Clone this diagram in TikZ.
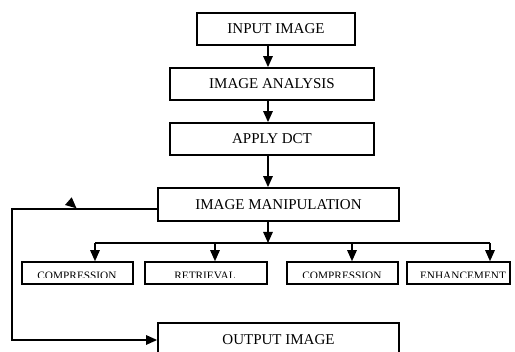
\documentclass[tikz,border=0pt]{standalone}
\usepackage{fontspec}
\setmainfont{Liberation Serif}
\usetikzlibrary{arrows.meta}
\tikzset{
  box/.style={draw, line width=1.8pt, inner sep=0pt, font=\fontsize{15}{18}\selectfont},
  smallbox/.style={draw, line width=1.6pt, inner sep=0pt, minimum height=22pt},
  smalltext/.style={inner sep=0pt, anchor=base, font=\fontsize{11.3}{13}\selectfont},
  conn/.style={line width=1.4pt},
  arr/.style={conn, -{Triangle[length=11pt,width=9.5pt]}}
}
\begin{document}
\begin{tikzpicture}[x=1pt, y=-1pt]
\useasboundingbox (0,0) rectangle (515,352);

% main column of boxes
\node[box, minimum width=158pt, minimum height=32pt] (in)  at (276,29)    {INPUT IMAGE};
\node[box, minimum width=204pt, minimum height=32pt] (ana) at (272,84)    {IMAGE ANALYSIS};
\node[box, minimum width=204pt, minimum height=32pt] (dct) at (272,139)   {APPLY DCT};
\node[box, minimum width=241pt, minimum height=33pt] (man) at (278.5,204.5) {IMAGE MANIPULATION};
\node[box, minimum width=241pt, minimum height=34pt] (out) at (278.5,340) {OUTPUT IMAGE};

% row of operation boxes
\node[smallbox, minimum width=111pt] (c1) at (77.5,273)  {};
\node[smallbox, minimum width=122pt] (rt) at (206,273)   {};
\node[smallbox, minimum width=111pt] (c2) at (342.5,273) {};
\node[smallbox, minimum width=103pt] (en) at (458.5,273) {};

% labels of the operation boxes, cut off by the box interior
\begin{scope}
  \clip (0,262) rectangle (515,278);
  \node[smalltext] (t1) at (77,279.5)  {COMPRESSION};
  \node[smalltext] (t2) at (205,279.5) {RETRIEVAL};
  \node[smalltext] (t3) at (342,279.5) {COMPRESSION};
  \node[smalltext] (t4) at (463,279.5) {ENHANCEMENT};
\end{scope}

% vertical flow
\coordinate (xa) at (268,0);
\draw[arr] (in.south -| xa)  -- (ana.north -| xa);
\draw[arr] (ana.south -| xa) -- (dct.north -| xa);
\draw[arr] (dct.south -| xa) -- (man.north -| xa);

% distribution bus to the operations
\coordinate (bus) at (268,243);
\coordinate (a1) at (95,243);
\coordinate (a2) at (215,243);
\coordinate (a3) at (352,243);
\coordinate (a4) at (490,243);
\draw[arr] (man.south -| xa) -- (bus);
\draw[conn] (a1) -- (a4);
\draw[arr] (a1) -- (a1 |- c1.north);
\draw[arr] (a2) -- (a2 |- rt.north);
\draw[arr] (a3) -- (a3 |- c2.north);
\draw[arr] (a4) -- (a4 |- en.north);

% return path to the output
\coordinate (lc) at (12,209);
\draw[arr] (man.west |- lc) -- (lc) |- (out.west);
\fill (65,205) -- (71.7,197.3) -- (76.5,208.3) -- cycle;
\end{tikzpicture}
\end{document}
